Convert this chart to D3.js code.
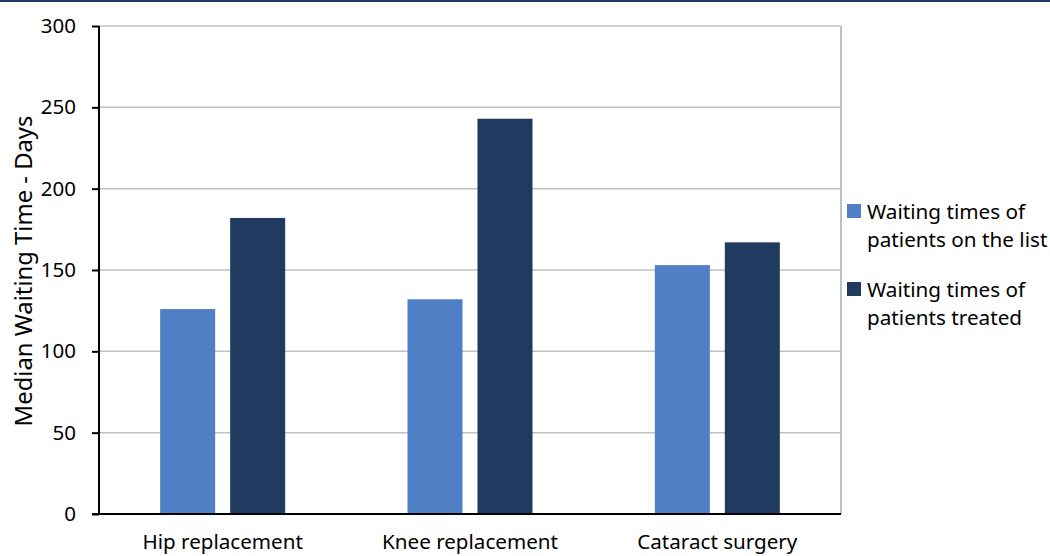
<!DOCTYPE html>
<html>
<head>
<meta charset="utf-8">
<script src="https://cdn.jsdelivr.net/npm/d3@7"></script>
<style>
  html, body { margin: 0; padding: 0; background: #fff; }
  svg { display: block; font-family: 'Noto Sans', sans-serif; }
</style>
</head>
<body>
<div id="chart"></div>
<script>
const categories = ['Hip replacement', 'Knee replacement', 'Cataract surgery'];
const seriesNames = ['Waiting times of patients on the list', 'Waiting times of patients treated'];
const onList = [126, 132, 153];
const treated = [182, 243, 167];
const yTicks = [0, 50, 100, 150, 200, 250, 300];

const WIDTH = 1050;
const HEIGHT = 556;
const COLOURS = ['#4f80c6', '#203a60'];
const margin = {top: 26, right: 209, bottom: 42, left: 99};
const width = WIDTH - margin.left - margin.right;
const height = HEIGHT - margin.top - margin.bottom;

function translate(x, y) {
  return `translate(${x}, ${y})`;
}

const svg = d3.select('#chart').append('svg')
  .attr('width', WIDTH)
  .attr('height', HEIGHT);

// top rule
svg.append('rect')
  .attr('x', 0).attr('y', 0)
  .attr('width', WIDTH).attr('height', 2)
  .attr('fill', '#1f3864');

const g = svg.append('g').attr('transform', translate(margin.left, margin.top));

const x0 = d3.scaleBand()
  .domain(categories)
  .range([0, width])
  .paddingInner(0.4946)
  .paddingOuter(0.2473);

const x1 = d3.scaleBand()
  .domain([0, 1])
  .range([0, x0.bandwidth()])
  .paddingInner(0.214);

const y = d3.scaleLinear()
  .domain([0, 300])
  .range([height, 0]);

// gridlines
g.append('g')
  .selectAll('line')
  .data(yTicks.slice(1))
  .join('line')
  .attr('x1', 0)
  .attr('x2', width)
  .attr('y1', d => y(d))
  .attr('y2', d => y(d))
  .attr('stroke', '#c0c0c0')
  .attr('stroke-width', 1.5);

// right border of plot
g.append('line')
  .attr('x1', width).attr('x2', width)
  .attr('y1', 0).attr('y2', height)
  .attr('stroke', '#c0c0c0')
  .attr('stroke-width', 2);

// bars
const rows = categories.map((c, i) => ({cat: c, values: [onList[i], treated[i]]}));

g.append('g')
  .selectAll('g')
  .data(rows)
  .join('g')
  .attr('transform', d => translate(x0(d.cat), 0))
  .selectAll('rect')
  .data(d => d.values.map((v, i) => ({i, v})))
  .join('rect')
  .attr('x', d => x1(d.i))
  .attr('width', x1.bandwidth())
  .attr('y', d => y(d.v))
  .attr('height', d => height - y(d.v))
  .attr('fill', d => COLOURS[d.i]);

// y axis
const yAxis = d3.axisLeft(y)
  .tickValues(yTicks)
  .tickSize(7)
  .tickPadding(16);

const yg = g.append('g').call(yAxis);
yg.select('.domain')
  .attr('stroke', '#000')
  .attr('stroke-width', 2)
  .attr('d', `M0,0V${height}`);
yg.selectAll('.tick line').attr('stroke', '#000').attr('stroke-width', 2);
yg.selectAll('.tick text')
  .attr('font-size', '20.5px')
  .attr('font-family', "'Noto Sans', sans-serif")
  .attr('fill', '#000');

// x axis
const xAxis = d3.axisBottom(x0).tickSize(0).tickPadding(20);
const xg = g.append('g').attr('transform', translate(0, height)).call(xAxis);
xg.select('.domain')
  .attr('stroke', '#000')
  .attr('stroke-width', 2)
  .attr('d', `M-7,0H${width}`);
xg.selectAll('.tick text')
  .attr('font-size', '20.6px')
  .attr('font-family', "'Noto Sans', sans-serif")
  .attr('fill', '#000');

// y axis title
svg.append('text')
  .attr('transform', `${translate(32, margin.top + height / 2 + 1)} rotate(-90)`)
  .attr('text-anchor', 'middle')
  .attr('font-size', '23.8px')
  .attr('fill', '#000')
  .text('Median Waiting Time - Days');

// legend
const legendLines = [['Waiting times of', 'patients on the list'], ['Waiting times of', 'patients treated']];
const legend = svg.append('g').attr('transform', translate(847, 0));
const legendTop = [204, 282];

legendLines.forEach((lines, i) => {
  const item = legend.append('g').attr('transform', translate(0, legendTop[i]));
  item.append('rect')
    .attr('width', 14).attr('height', 14)
    .attr('fill', COLOURS[i]);
  const t = item.append('text')
    .attr('x', 20)
    .attr('y', 15)
    .attr('font-size', '20.7px')
    .attr('fill', '#000');
  lines.forEach((line, j) => {
    t.append('tspan')
      .attr('x', 20)
      .attr('dy', j === 0 ? 0 : 28)
      .text(line);
  });
});
</script>
</body>
</html>
